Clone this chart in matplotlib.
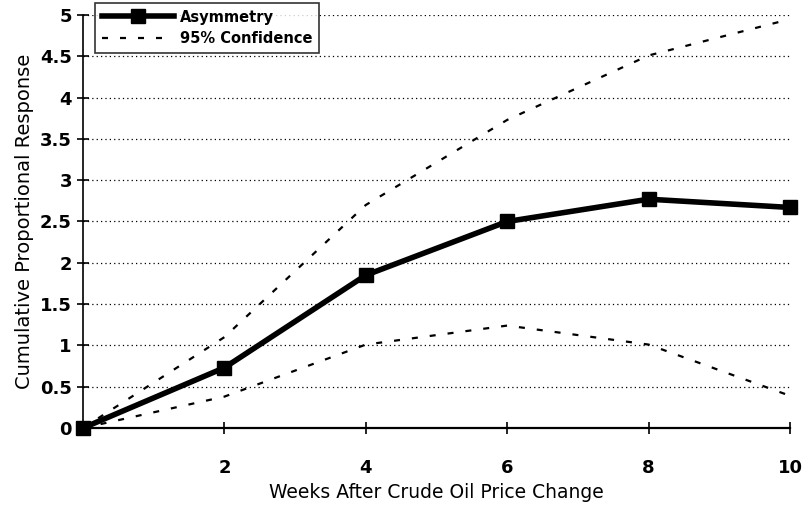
import matplotlib.pyplot as plt
import numpy as np

weeks = [0, 2, 4, 6, 8, 10]
asymmetry = [0.0, 0.73, 1.85, 2.5, 2.77, 2.67]
upper_95 = [0.0, 1.10, 2.70, 3.73, 4.51, 4.95]
lower_95 = [0.0, 0.38, 1.01, 1.24, 1.01, 0.39]

plt.rcParams['font.family'] = ['DejaVu Sans']

fig = plt.figure(figsize=(8.06, 5.08), dpi=100)
ax = fig.add_axes([83 / 806, 80 / 508, 707 / 806, 413 / 508])

# grid first so lines sit on top
for yv in np.arange(0.5, 5.01, 0.5):
    ax.axhline(yv, color='black', lw=0.9, ls=(0, (1, 2.5)), zorder=1)

ax.plot(weeks, asymmetry, color='black', lw=4, marker='s', markersize=10,
        label='Asymmetry', zorder=4, clip_on=False)
ax.plot(weeks, upper_95, color='black', lw=1.6, ls=(0, (2.7, 5.4)),
        label='95% Confidence', zorder=3)
ax.plot(weeks, lower_95, color='black', lw=1.6, ls=(0, (2.7, 5.4)), zorder=3)

ax.set_xlim(0, 10)
ax.set_ylim(0, 5)
ax.set_xticks([2, 4, 6, 8, 10])
ax.set_yticks(np.arange(0, 5.01, 0.5))
ax.set_yticklabels(['0', '0.5', '1', '1.5', '2', '2.5', '3', '3.5', '4', '4.5', '5'])
ax.spines['top'].set_visible(False)
ax.spines['right'].set_visible(False)
ax.spines['left'].set_linewidth(1.2)
ax.spines['bottom'].set_linewidth(1.6)
ax.tick_params(axis='both', direction='inout', length=9, width=1.2,
               labelsize=13)
ax.tick_params(axis='x', pad=18)
for lab in ax.get_xticklabels() + ax.get_yticklabels():
    lab.set_fontweight('bold')

ax.set_xlabel('Weeks After Crude Oil Price Change', fontsize=13.5, labelpad=4)
ax.set_ylabel('Cumulative Proportional Response', fontsize=14, labelpad=4)

leg = ax.legend(loc='upper left', bbox_to_anchor=(0.017, 1.029),
                handlelength=5.0, frameon=True, fancybox=False,
                borderpad=0.45, labelspacing=0.45, handletextpad=0.4,
                borderaxespad=0, prop={'weight': 'bold', 'size': 10.5})
leg.get_frame().set_edgecolor('black')
leg.get_frame().set_linewidth(1.2)
leg.set_zorder(5)

fig.savefig('out.png', dpi=100)
